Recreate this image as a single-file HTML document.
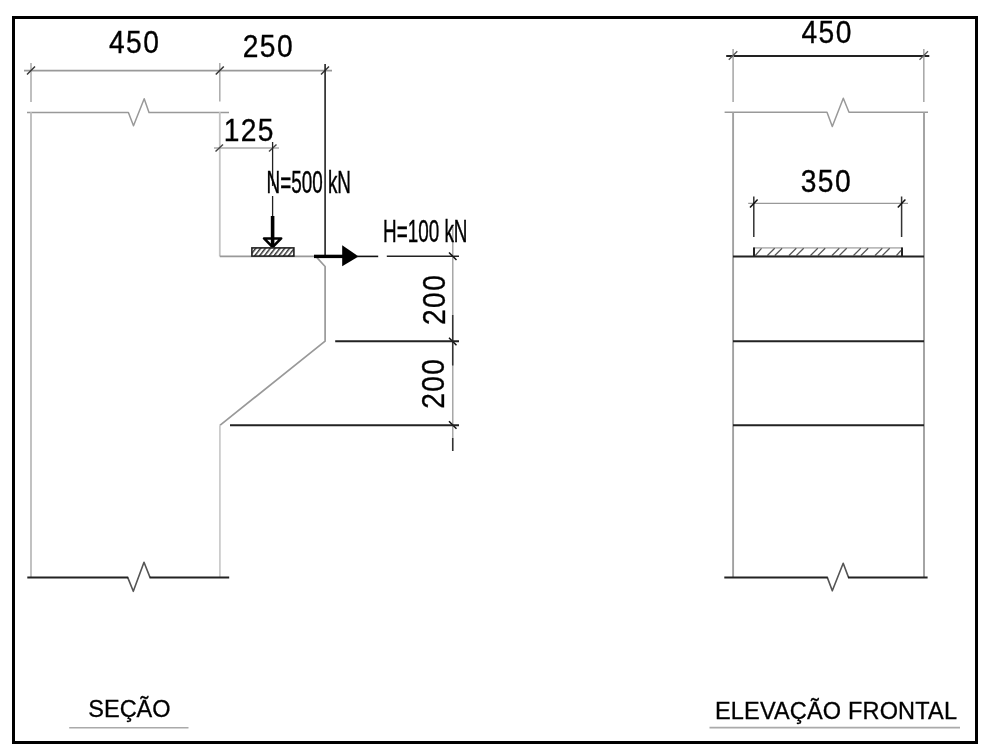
<!DOCTYPE html>
<html><head><meta charset="utf-8">
<style>
html,body{margin:0;padding:0;background:#fff;width:986px;height:753px;overflow:hidden}
svg{display:block;will-change:transform}
text{font-family:"Liberation Sans",sans-serif;fill:#000}
</style></head>
<body>
<svg width="986" height="753" viewBox="0 0 986 753">
<defs>
<pattern id="h1" patternUnits="userSpaceOnUse" width="3.8" height="3.8" patternTransform="translate(251,247) rotate(38)">
<rect width="3.8" height="3.8" fill="#fff"/><rect x="0" y="0" width="1.5" height="3.8" fill="#333"/>
</pattern>
</defs>
<!-- frame -->
<rect x="13.5" y="17.5" width="963" height="725" fill="none" stroke="#000" stroke-width="3"/>

<g fill="none" stroke-linecap="butt">
<!-- ===== LEFT SECTION ===== -->
<!-- dim line top -->
<line x1="24" y1="70.6" x2="332" y2="70.6" stroke="#999" stroke-width="1.6"/>
<line x1="31" y1="63" x2="31" y2="102" stroke="#aaa" stroke-width="1.5"/>
<line x1="219.8" y1="63" x2="219.8" y2="101.5" stroke="#aaa" stroke-width="1.5"/>
<!-- ticks -->
<g stroke="#333" stroke-width="1.5">
<line x1="27" y1="74.5" x2="35" y2="66.5"/>
<line x1="215.8" y1="74.5" x2="223.8" y2="66.5"/>
<line x1="321" y1="74.5" x2="329" y2="66.5"/>
</g>
<!-- top break line -->
<polyline points="27,112.4 128.4,112.4 133.5,125.7 144.2,98.7 149,112.4 229,112.4" stroke="#999" stroke-width="1.5" stroke-linejoin="round"/>
<!-- left wall -->
<line x1="31" y1="112" x2="31" y2="577.5" stroke="#bbb" stroke-width="1.8"/>
<!-- column face upper -->
<line x1="219.8" y1="112" x2="219.8" y2="256.4" stroke="#c4c4c4" stroke-width="1.8"/>
<!-- corbel top -->
<line x1="219.8" y1="256.4" x2="314" y2="256.4" stroke="#999" stroke-width="1.8"/>
<!-- chamfer & face -->
<polyline points="315.8,256.4 325.1,266.5 325.1,341.2 219.9,425.3" stroke="#999" stroke-width="1.7"/>
<line x1="219.9" y1="425.3" x2="219.9" y2="577.5" stroke="#ccc" stroke-width="1.8"/>
<!-- extension line at 325 -->
<line x1="325.1" y1="64" x2="325.1" y2="256.4" stroke="#222" stroke-width="1.6"/>
<!-- bottom break -->
<polyline points="127.7,577.4 133.3,591.3 144,562.3 150,577.4" stroke="#555" stroke-width="1.6" stroke-linejoin="round"/>
<line x1="27.3" y1="577.4" x2="128.2" y2="577.4" stroke="#222" stroke-width="2"/>
<line x1="149.5" y1="577.4" x2="229.2" y2="577.4" stroke="#222" stroke-width="2"/>

<!-- 125 dim -->
<line x1="214" y1="148" x2="279" y2="148" stroke="#aaa" stroke-width="1.3"/>
<g stroke="#444" stroke-width="1.4">
<line x1="215.5" y1="151.5" x2="223" y2="144.5"/>
<line x1="269" y1="151.5" x2="276.5" y2="144.5"/>
</g>
<!-- N arrow -->
<line x1="272.6" y1="142" x2="272.6" y2="186" stroke="#222" stroke-width="1.3"/><line x1="272.6" y1="196" x2="272.6" y2="217" stroke="#222" stroke-width="1.3"/>
<line x1="272.6" y1="216" x2="272.6" y2="247" stroke="#000" stroke-width="3.6"/>
<polygon points="264,238.4 281.2,238.4 272.6,247" stroke="#000" stroke-width="2.5" stroke-linejoin="round"/>
<!-- plate left -->
<rect x="251.9" y="247.9" width="42" height="8.2" fill="url(#h1)" stroke="#222" stroke-width="1.6"/>

<!-- H arrow -->
<line x1="314" y1="256.4" x2="343" y2="256.4" stroke="#000" stroke-width="3.4"/>
<polygon points="342.2,245.2 342.2,266.2 358.5,256.4" fill="#000" stroke="none"/>
<line x1="357" y1="256.4" x2="378.2" y2="256.4" stroke="#111" stroke-width="1.6"/>
<line x1="386.8" y1="256.2" x2="459" y2="256.2" stroke="#222" stroke-width="1.6"/>
<!-- vertical dim -->
<line x1="452.8" y1="226.5" x2="452.8" y2="451" stroke="#999" stroke-width="1.3"/>
<line x1="452.7" y1="315" x2="452.7" y2="341" stroke="#333" stroke-width="1.5"/>
<line x1="452.7" y1="341" x2="452.7" y2="365.5" stroke="#333" stroke-width="1.5"/>
<line x1="452.7" y1="438" x2="452.7" y2="451" stroke="#333" stroke-width="1.5"/>
<g stroke="#111" stroke-width="1.5">
<line x1="449" y1="252.5" x2="456.5" y2="260"/>
<line x1="449" y1="337.7" x2="456.5" y2="345.2"/>
<line x1="449" y1="421.3" x2="456.5" y2="428.8"/>
</g>
<line x1="335.2" y1="341.3" x2="459" y2="341.3" stroke="#222" stroke-width="2"/>
<line x1="230" y1="425.2" x2="459" y2="425.2" stroke="#222" stroke-width="2"/>

<!-- ===== RIGHT ELEVATION ===== -->
<line x1="726.2" y1="56" x2="929.3" y2="56" stroke="#222" stroke-width="2"/>
<line x1="733.1" y1="49" x2="733.1" y2="102" stroke="#aaa" stroke-width="1.6"/>
<line x1="923.8" y1="49" x2="923.8" y2="102" stroke="#aaa" stroke-width="1.6"/>
<g stroke="#555" stroke-width="1.3">
<line x1="728.8" y1="59.8" x2="737.3" y2="51.3"/>
<line x1="919.5" y1="59.8" x2="928" y2="51.3"/>
</g>
<polyline points="724.6,112.3 827,112.3 832.3,126.6 843.3,98.3 849,112.3 928,112.3" stroke="#999" stroke-width="1.5" stroke-linejoin="round"/>
<line x1="733.1" y1="112" x2="733.1" y2="577.4" stroke="#a0a0a0" stroke-width="1.9"/>
<line x1="924" y1="112" x2="924" y2="577.4" stroke="#a0a0a0" stroke-width="1.9"/>
<line x1="733" y1="341.3" x2="924" y2="341.3" stroke="#222" stroke-width="2"/>
<line x1="733" y1="425.2" x2="924" y2="425.2" stroke="#222" stroke-width="2"/>
<polyline points="827.3,577.4 832.3,590.8 843.2,563.3 848.5,577.4" stroke="#555" stroke-width="1.6" stroke-linejoin="round"/>
<line x1="724.3" y1="577.4" x2="827.8" y2="577.4" stroke="#222" stroke-width="2"/>
<line x1="848" y1="577.4" x2="927.6" y2="577.4" stroke="#222" stroke-width="2"/>
<!-- 350 dim -->
<line x1="748.2" y1="203.4" x2="908" y2="203.4" stroke="#999" stroke-width="1.3"/>
<line x1="753.8" y1="196.5" x2="753.8" y2="237" stroke="#333" stroke-width="1.5"/>
<line x1="901.6" y1="196.5" x2="901.6" y2="237" stroke="#333" stroke-width="1.5"/>
<g stroke="#111" stroke-width="1.5">
<line x1="750" y1="207.4" x2="757.6" y2="199.4"/>
<line x1="897.8" y1="207.4" x2="905.4" y2="199.4"/>
</g>
<!-- plate right -->
<rect x="754" y="247.9" width="148" height="8.4" fill="#fff" stroke="#aaa" stroke-width="1.4"/>
<line x1="754" y1="247.5" x2="754" y2="256.4" stroke="#222" stroke-width="2"/>
<line x1="902" y1="247.5" x2="902" y2="256.4" stroke="#222" stroke-width="2"/>
<g stroke="#555" stroke-width="1.2" id="hatchR">
<line x1="755.3" y1="255.5" x2="761.5" y2="248.3"/>
<line x1="767.4" y1="255.5" x2="774.7" y2="248.3"/>
<line x1="774.8" y1="255.5" x2="782.1" y2="248.3"/>
<line x1="789.0" y1="255.5" x2="796.3" y2="248.3"/>
<line x1="796.4" y1="255.5" x2="803.7" y2="248.3"/>
<line x1="810.5" y1="255.5" x2="817.8" y2="248.3"/>
<line x1="817.9" y1="255.5" x2="825.2" y2="248.3"/>
<line x1="832.0" y1="255.5" x2="839.3" y2="248.3"/>
<line x1="839.4" y1="255.5" x2="846.7" y2="248.3"/>
<line x1="853.5" y1="255.5" x2="860.8" y2="248.3"/>
<line x1="860.9" y1="255.5" x2="868.2" y2="248.3"/>
<line x1="875.0" y1="255.5" x2="882.3" y2="248.3"/>
<line x1="882.4" y1="255.5" x2="889.7" y2="248.3"/>
<line x1="896.5" y1="255.5" x2="901" y2="250.5"/>
</g>

<line x1="733" y1="256.4" x2="924" y2="256.4" stroke="#222" stroke-width="2"/>
<!-- labels underline -->
<line x1="69.2" y1="727.8" x2="188.5" y2="727.8" stroke="#aaa" stroke-width="1.6"/>
<line x1="709.5" y1="727.6" x2="960" y2="727.6" stroke="#aaa" stroke-width="1.6"/>
</g>

<!-- texts -->
<g font-size="30.5" stroke="#000" stroke-width="0.35">
<text transform="translate(109,52.7) scale(0.925,1)" letter-spacing="1.5">450</text>
<text transform="translate(242.8,56.6) scale(0.925,1)" letter-spacing="1.5">250</text>
<text transform="translate(223.7,140.5) scale(0.925,1)" letter-spacing="1.5">125</text>
<text transform="translate(801.5,43) scale(0.925,1)" letter-spacing="1.5">450</text>
<text transform="translate(800.8,192) scale(0.925,1)" letter-spacing="1.5">350</text>
<text transform="translate(444.5,325) rotate(-90) scale(0.925,1)" letter-spacing="1.5">200</text>
<text transform="translate(444.3,408.8) rotate(-90) scale(0.925,1)" letter-spacing="1.5">200</text>
</g>
<text transform="translate(266.5,193) scale(0.59,1)" font-size="32" stroke="#000" stroke-width="0.45">N=500 kN</text>
<text transform="translate(383,242.3) scale(0.59,1)" font-size="32" stroke="#000" stroke-width="0.45">H=100 kN</text>
<text x="88.3" y="717.4" font-size="23.5" stroke="#000" stroke-width="0.3">SEÇÃO</text>
<text x="715" y="719.2" font-size="23.5" letter-spacing="0.17" stroke="#000" stroke-width="0.3">ELEVAÇÃO FRONTAL</text>
</svg>
</body></html>
